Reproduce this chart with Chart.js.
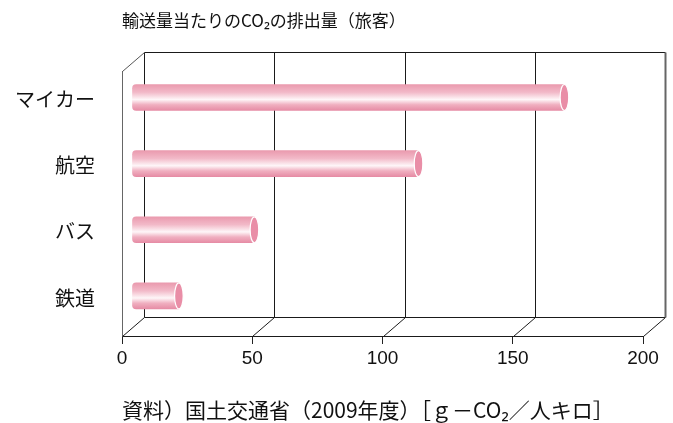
<!DOCTYPE html>
<html lang="ja">
<head>
<meta charset="utf-8">
<script src="https://cdn.jsdelivr.net/npm/chart.js@4.4.1/dist/chart.umd.min.js"></script>
<style>
  html, body { margin: 0; padding: 0; background: #fff; }
  #wrap { width: 673px; height: 423px; }
</style>
</head>
<body>
<div id="wrap"><canvas id="co2Chart" width="673" height="423"></canvas></div>
<script>
// datos
const categorias = ['マイカー', '航空', 'バス', '鉄道'];
const valores = [166, 110, 47, 18];
const ejeMin = 0;
const ejeMax = 200;
const ejePaso = 50;

const titulo = '輸送量当たりのCO₂の排出量（旅客）';
const fuente = '資料）国土交通省（2009年度）［ｇ－CO₂／人キロ］';

// profundidad del marco 3D y desplazamiento de las barras
const fondoX = 22, fondoY = -19;
const barraX = 10, barraY = -7;

const fuenteJP = "'Noto Sans CJK JP', 'Noto Sans', sans-serif";
const fuenteNum = "'Liberation Sans', Arial, sans-serif";

function linea(ctx, x1, y1, x2, y2) {
    ctx.beginPath();
    ctx.moveTo(x1, y1);
    ctx.lineTo(x2, y2);
    ctx.stroke();
}

// marco 3D (pared del fondo, suelo) y cilindros
const marco3d = {
    id: 'marco3d',
    beforeDatasetsDraw(chart) {
        const { ctx, chartArea: a, scales: { x } } = chart;
        const top = Math.round(a.top) + 0.5, bottom = Math.round(a.bottom) + 0.5;
        const left = Math.round(a.left) + 0.5, right = Math.round(a.right) + 0.5;
        ctx.save();
        ctx.lineWidth = 1;
        ctx.strokeStyle = '#1a1a1a';
        x.ticks.forEach((t, i) => {
            const px = Math.round(x.getPixelForValue(t.value)) + 0.5;
            if (i < x.ticks.length - 1) {
                linea(ctx, px + fondoX, top + fondoY, px + fondoX, bottom + fondoY);
            }
            linea(ctx, px, bottom, px + fondoX, bottom + fondoY);
        });
        linea(ctx, left + fondoX, top + fondoY, right + fondoX, top + fondoY);
        linea(ctx, left + fondoX, bottom + fondoY, right + fondoX, bottom + fondoY);
        ctx.strokeStyle = '#555';
        linea(ctx, left, top, left + fondoX, top + fondoY);
        ctx.lineWidth = 2;
        ctx.strokeStyle = '#666';
        linea(ctx, right + fondoX, top + fondoY, right + fondoX, bottom + fondoY);
        ctx.restore();

        ctx.save();
        ctx.translate(barraX, barraY);
    },
    afterDatasetsDraw(chart) {
        const { ctx } = chart;
        chart.getDatasetMeta(0).data.forEach(bar => {
            const { x, y, height } = bar.getProps(['x', 'y', 'height'], true);
            ctx.beginPath();
            ctx.ellipse(x, y, 4.3, height / 2, 0, 0, Math.PI * 2);
            ctx.fillStyle = '#e98ea7';
            ctx.fill();
            ctx.lineWidth = 1.2;
            ctx.strokeStyle = '#fff';
            ctx.stroke();
        });
        ctx.restore();
    }
};

function degradado(context) {
    const chart = context.chart;
    if (!chart.chartArea || !chart.scales.y) return '#eb9bb0';
    const yc = chart.scales.y.getPixelForValue(context.dataIndex);
    const h = 13;
    const g = chart.ctx.createLinearGradient(0, yc - h, 0, yc + h);
    g.addColorStop(0, '#ea9aae');
    g.addColorStop(0.3, '#f2b9c8');
    g.addColorStop(0.58, '#fef6f8');
    g.addColorStop(0.78, '#f0afc0');
    g.addColorStop(1, '#e68ca5');
    return g;
}

const ctx = document.getElementById('co2Chart').getContext('2d');
new Chart(ctx, {
    type: 'bar',
    data: {
        labels: categorias,
        datasets: [{
            label: 'CO₂',
            data: valores,
            backgroundColor: degradado,
            borderWidth: 0,
            borderSkipped: false,
            borderRadius: { topLeft: 4, bottomLeft: 4, topRight: 0, bottomRight: 0 },
            barThickness: 26
        }]
    },
    options: {
        indexAxis: 'y',
        responsive: false,
        animation: false,
        layout: { padding: { left: 0, right: 30, top: 0, bottom: 0 } },
        plugins: {
            legend: { display: false },
            tooltip: { enabled: false },
            title: {
                display: true,
                text: titulo,
                align: 'start',
                fullSize: false,
                color: '#111',
                font: { family: fuenteJP, size: 17, weight: 'normal' },
                padding: { top: 10, bottom: 41 }
            },
            subtitle: {
                display: true,
                text: fuente,
                position: 'bottom',
                align: 'start',
                fullSize: false,
                color: '#111',
                font: { family: fuenteJP, size: 21, weight: 'normal' },
                padding: { top: 25, bottom: 0 }
            }
        },
        scales: {
            x: {
                min: ejeMin,
                max: ejeMax,
                ticks: {
                    stepSize: ejePaso,
                    color: '#111',
                    padding: 3,
                    font: { family: fuenteNum, size: 19 }
                },
                grid: { drawOnChartArea: false, tickLength: 8, color: '#222' },
                border: { display: true, color: '#1a1a1a', width: 1 }
            },
            y: {
                afterFit(scale) { scale.width = 122; },
                ticks: {
                    color: '#111',
                    padding: 27,
                    labelOffset: -5,
                    font: { family: fuenteJP, size: 20 }
                },
                grid: { drawOnChartArea: false, drawTicks: false },
                border: { display: true, color: '#666', width: 1 }
            }
        }
    },
    plugins: [marco3d]
});
</script>
</body>
</html>
